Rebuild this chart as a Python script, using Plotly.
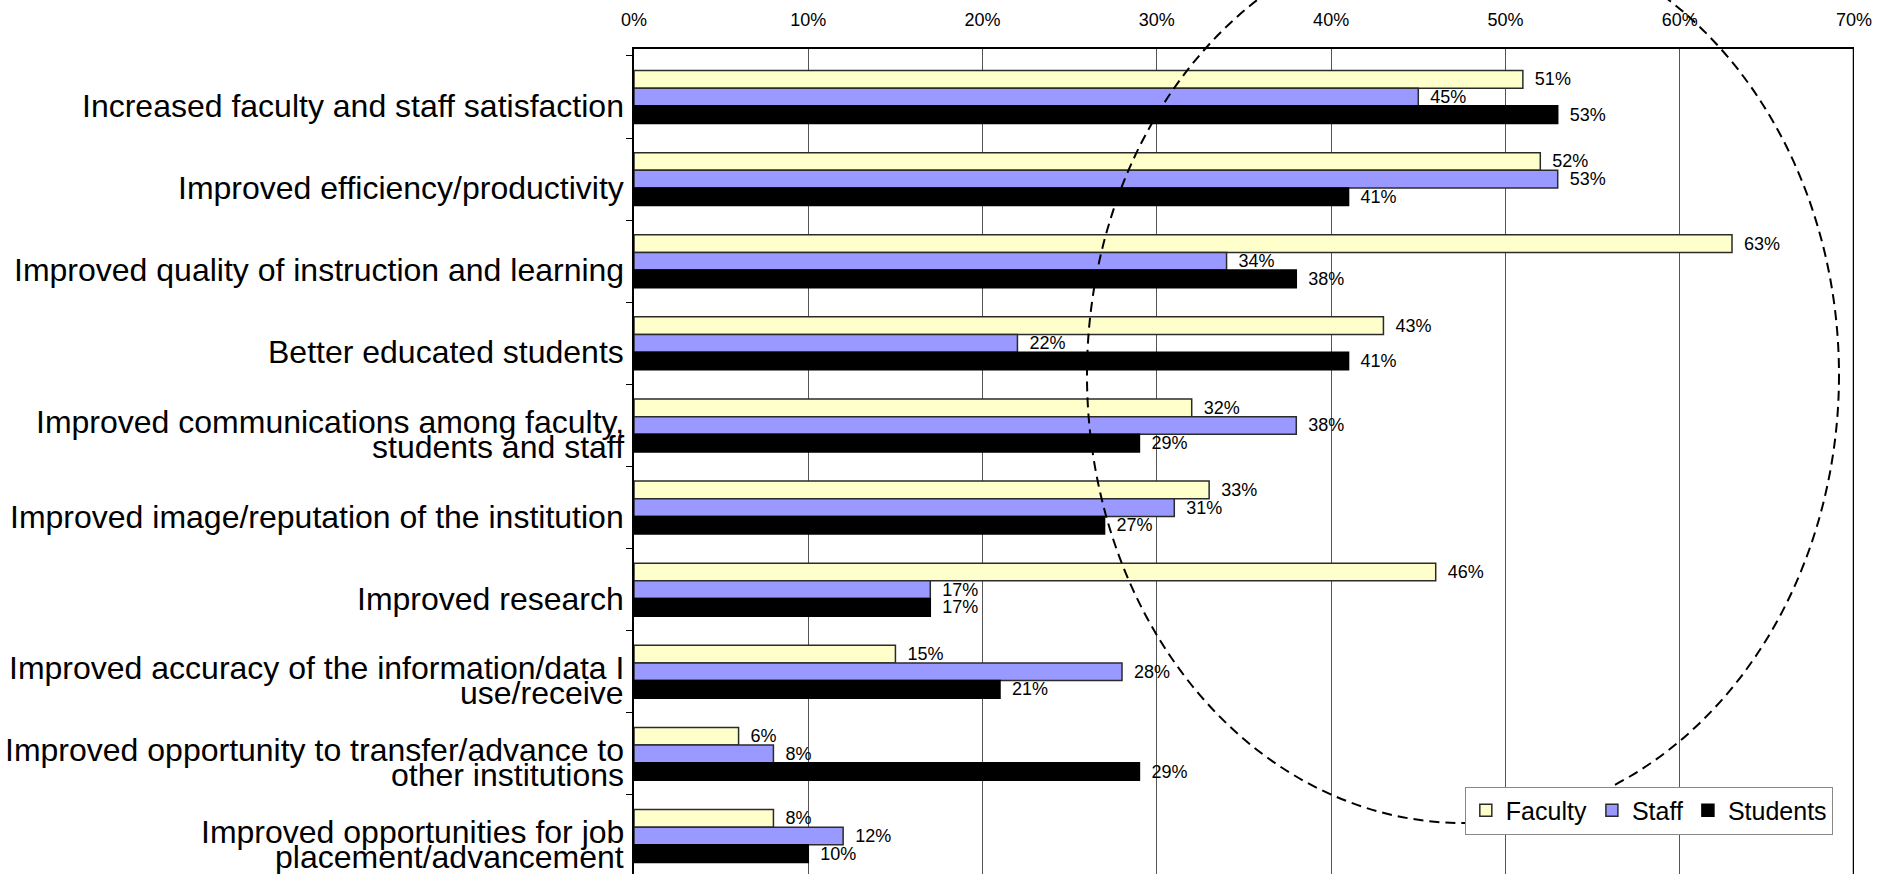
import plotly.graph_objects as go

# Survey outcomes, top to bottom as listed on the chart
categories = [
    "Increased faculty and staff satisfaction",
    "Improved efficiency/productivity",
    "Improved quality of instruction and learning",
    "Better educated students",
    "Improved communications among faculty,<br>students and staff",
    "Improved image/reputation of the institution",
    "Improved research",
    "Improved accuracy of the information/data I<br>use/receive",
    "Improved opportunity to transfer/advance to<br>other institutions",
    "Improved opportunities for job<br>placement/advancement",
]

faculty = [51, 52, 63, 43, 32, 33, 46, 15, 6, 8]
staff = [45, 53, 34, 22, 38, 31, 17, 28, 8, 12]
students = [53, 41, 38, 41, 29, 27, 17, 21, 29, 10]

x_ticks = [0, 10, 20, 30, 40, 50, 60, 70]
x_tick_text = [f"{v}%" for v in x_ticks]

FONT = "Liberation Sans, Arial, Helvetica, sans-serif"

series = [
    ("Faculty", faculty, "#FFFFCC", "#2b2b2b"),
    ("Staff", staff, "#9999FF", "#2b2b2b"),
    ("Students", students, "#000000", "#000000"),
]

fig = go.Figure()
for name, vals, fill, edge in series:
    fig.add_trace(go.Bar(
        name=name,
        x=vals,
        y=categories,
        orientation="h",
        marker=dict(color=fill, line=dict(color=edge, width=1.5)),
        text=[f"\u2002{v}%" for v in vals],
        textposition="outside",
        textfont=dict(family=FONT, size=18, color="#000000"),
        constraintext="none",
        cliponaxis=False,
    ))

# Category labels, one annotation per line for tight line spacing
annotations = []
for cat in categories:
    lines = cat.split("<br>")
    n = len(lines)
    for j, line in enumerate(lines):
        offset = 9 + (j - (n - 1) / 2) * 25
        annotations.append(dict(
            x=0, xref="paper", xanchor="right", xshift=-8,
            y=cat, yref="y", yanchor="middle", yshift=-offset,
            text=line, showarrow=False,
            font=dict(family=FONT, size=32, color="#000000"),
        ))

fig.update_layout(
    width=1898,
    height=874,
    margin=dict(l=634, r=44, t=49, b=0),
    paper_bgcolor="#ffffff",
    plot_bgcolor="#ffffff",
    barmode="group",
    bargap=0.355,
    bargroupgap=0,
    font=dict(family=FONT, color="#000000"),
    showlegend=True,
    legend=dict(
        orientation="h",
        x=0.681, y=0.106, xanchor="left", yanchor="top",
        bgcolor="#ffffff",
        bordercolor="#888888",
        borderwidth=1,
        font=dict(family=FONT, size=25, color="#000000"),
        traceorder="normal",
        itemwidth=30,
    ),
    annotations=annotations,
    xaxis=dict(
        side="top",
        range=[0, 70],
        tickvals=x_ticks,
        ticktext=x_tick_text,
        tickfont=dict(family=FONT, size=18, color="#000000"),
        ticks="",
        ticklabelstandoff=14,
        showgrid=True,
        gridcolor="#555555",
        gridwidth=1,
        showline=True,
        linecolor="#000000",
        linewidth=2,
        zeroline=False,
        fixedrange=True,
    ),
    yaxis=dict(
        type="category",
        categoryorder="array",
        categoryarray=categories,
        range=[9.463, -0.585],
        showticklabels=False,
        ticks="outside",
        tickson="boundaries",
        ticklen=6,
        tickcolor="#000000",
        tickwidth=1,
        showgrid=False,
        showline=True,
        linecolor="#000000",
        linewidth=2,
        zeroline=False,
        fixedrange=True,
    ),
    shapes=[
        # right border of the plot area at 70%
        dict(type="line", xref="x", yref="paper", x0=70, x1=70, y0=0, y1=1,
             line=dict(color="#000000", width=2.5), layer="above"),
        # dashed highlight ellipse
        dict(type="circle", xref="paper", yref="paper",
             x0=0.3713, x1=0.9877, y0=0.0618, y1=1.148,
             line=dict(color="#000000", width=2, dash="10px,6px"),
             fillcolor="rgba(0,0,0,0)", layer="above"),
    ],
)

fig.write_html("out.html")
